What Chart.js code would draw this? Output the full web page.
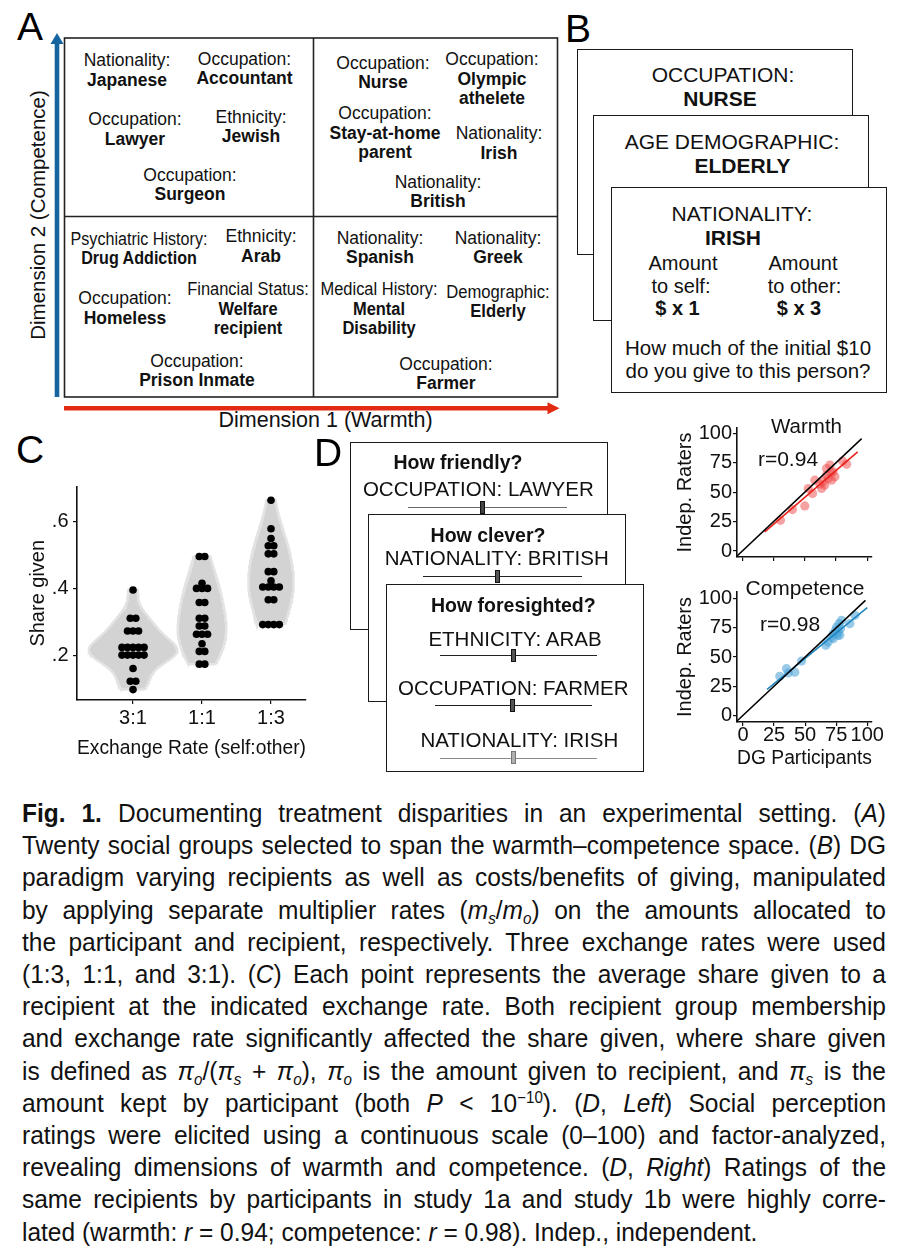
<!DOCTYPE html>
<html>
<head>
<meta charset="utf-8">
<title>Fig. 1</title>
<script src="https://cdn.jsdelivr.net/npm/chart.js@4.4.0/dist/chart.umd.min.js"></script>
<style>
html,body{margin:0;padding:0;background:#fff;}
body{position:relative;width:918px;height:1258px;overflow:hidden;font-family:"Liberation Sans",Arial,Helvetica,sans-serif;color:#111;}
.abs{position:absolute;}
.letter{position:absolute;font-size:39px;line-height:30px;color:#000;}
.card{position:absolute;border:1.6px solid #1a1a1a;background:#fff;box-sizing:border-box;}
.t{position:absolute;white-space:nowrap;text-align:center;}
.albl{position:absolute;white-space:nowrap;text-align:center;font-size:17.5px;line-height:19.6px;color:#111;}
.cap{position:absolute;left:22px;width:900px;height:30px;line-height:30px;white-space:nowrap;font-family:"Liberation Sans Narrow","Liberation Sans",Arial,sans-serif;font-size:26px;color:#111;}
.cap .in{white-space:pre;display:inline-block;transform-origin:0 50%;}
sub,sup{font-size:0.62em;line-height:0;}
sub{vertical-align:-0.28em;} sup{vertical-align:0.55em;}
.slider{position:absolute;height:0;}
.handle{position:absolute;width:5px;height:13px;box-sizing:border-box;}
canvas{position:absolute;}
</style>
</head>
<body>

<!-- ================= PANEL A ================= -->
<div id="panelA">
<div class="letter" style="left:17px;top:12.4px;">A</div>
<svg class="abs" style="left:0;top:0;" width="600" height="440">
  <rect x="64.5" y="38" width="493" height="359" fill="none" stroke="#222" stroke-width="1.6"/>
  <line x1="313.5" y1="38" x2="313.5" y2="397" stroke="#222" stroke-width="1.6"/>
  <line x1="64.5" y1="216.5" x2="557.5" y2="216.5" stroke="#222" stroke-width="1.6"/>
  <line x1="57" y1="397" x2="57" y2="43" stroke="#15639f" stroke-width="4.6"/>
  <polygon points="50.5,44 63.5,44 57,33" fill="#15639f"/>
  <line x1="64" y1="408.3" x2="548" y2="408.3" stroke="#e32b13" stroke-width="4.6"/>
  <polygon points="547.5,402.3 547.5,414.3 559.5,408.3" fill="#e32b13"/>
</svg>
<div class="t" style="left:325.6px;top:419.5px;font-size:21.5px;line-height:19px;transform:translate(-50%,-50%);">Dimension 1 (Warmth)</div>
<div class="t" style="left:37px;top:215px;font-size:20.5px;line-height:19px;transform:translate(-50%,-50%) rotate(-90deg);">Dimension 2 (Competence)</div>
</div>

<!-- ================= PANEL B ================= -->
<div class="letter" style="left:565px;top:14.4px;">B</div>
<div class="card" style="left:577px;top:49px;width:276px;height:206px;"></div>
<div class="t" style="left:723px;top:73.5px;font-size:21px;line-height:19px;transform:translate(-50%,-50%);">OCCUPATION:</div>
<div class="t" style="left:720px;top:97.5px;font-size:21px;line-height:19px;font-weight:bold;transform:translate(-50%,-50%);">NURSE</div>
<div class="card" style="left:593px;top:115px;width:276px;height:206px;"></div>
<div class="t" style="left:732px;top:141px;font-size:21px;line-height:19px;transform:translate(-50%,-50%);">AGE DEMOGRAPHIC:</div>
<div class="t" style="left:742.5px;top:165px;font-size:21px;line-height:19px;font-weight:bold;transform:translate(-50%,-50%);">ELDERLY</div>
<div class="card" style="left:611px;top:187px;width:276px;height:206px;"></div>
<div class="t" style="left:742px;top:213px;font-size:21px;line-height:19px;transform:translate(-50%,-50%);">NATIONALITY:</div>
<div class="t" style="left:733px;top:237px;font-size:21px;line-height:19px;font-weight:bold;transform:translate(-50%,-50%);">IRISH</div>
<div class="t" style="left:683px;top:263px;font-size:20px;line-height:17px;transform:translate(-50%,-50%);">Amount</div>
<div class="t" style="left:681px;top:285.5px;font-size:20px;line-height:17px;transform:translate(-50%,-50%);">to self:</div>
<div class="t" style="left:677.5px;top:308px;font-size:20px;line-height:17px;font-weight:bold;transform:translate(-50%,-50%);">$ x 1</div>
<div class="t" style="left:803px;top:263px;font-size:20px;line-height:17px;transform:translate(-50%,-50%);">Amount</div>
<div class="t" style="left:804.5px;top:285.5px;font-size:20px;line-height:17px;transform:translate(-50%,-50%);">to other:</div>
<div class="t" style="left:799px;top:308px;font-size:20px;line-height:17px;font-weight:bold;transform:translate(-50%,-50%);">$ x 3</div>
<div class="t" style="left:748px;top:346.5px;font-size:20.5px;line-height:19px;transform:translate(-50%,-50%);">How much of the initial $10</div>
<div class="t" style="left:748px;top:370px;font-size:20.5px;line-height:19px;transform:translate(-50%,-50%);">do you give to this person?</div>

<!-- ================= PANEL C ================= -->
<div class="letter" style="left:16px;top:435.4px;">C</div>
<canvas id="cC" width="320" height="290" style="left:0px;top:470px;width:320px;height:290px;"></canvas>

<!-- ================= PANEL D (left) ================= -->
<div class="letter" style="left:314px;top:438.4px;">D</div>
<div id="panelDL"></div>

<!-- ================= PANEL D (right) ================= -->
<canvas id="cW" width="258" height="170" style="left:660px;top:405px;width:258px;height:170px;"></canvas>
<canvas id="cP" width="258" height="200" style="left:660px;top:570px;width:258px;height:200px;"></canvas>
<div class="t" style="left:806.5px;top:424.5px;font-size:20.5px;line-height:19px;transform:translate(-50%,-50%);">Warmth</div>
<div class="t" id="rW" style="left:788px;top:458px;font-size:21px;line-height:19px;transform:translate(-50%,-50%);"></div>
<div class="t" style="left:805px;top:586.7px;font-size:21px;line-height:19px;transform:translate(-50%,-50%);">Competence</div>
<div class="t" id="rP" style="left:790px;top:623.3px;font-size:21px;line-height:19px;transform:translate(-50%,-50%);"></div>

<!-- ================= CAPTION ================= -->
<div id="caption">
<div class="cap"><span class="in"><b>Fig. 1.</b><span style="display:inline-block;width:17px"></span>Documenting treatment disparities in an experimental setting. (<i>A</i>)</span></div>
<div class="cap"><span class="in">Twenty social groups selected to span the warmth–competence space. (<i>B</i>) DG</span></div>
<div class="cap"><span class="in">paradigm varying recipients as well as costs/benefits of giving, manipulated</span></div>
<div class="cap"><span class="in">by applying separate multiplier rates (<i>m<sub>s</sub></i>/<i>m<sub>o</sub></i>) on the amounts allocated to</span></div>
<div class="cap"><span class="in">the participant and recipient, respectively. Three exchange rates were used</span></div>
<div class="cap"><span class="in">(1:3, 1:1, and 3:1). (<i>C</i>) Each point represents the average share given to a</span></div>
<div class="cap"><span class="in">recipient at the indicated exchange rate. Both recipient group membership</span></div>
<div class="cap"><span class="in">and exchange rate significantly affected the share given, where share given</span></div>
<div class="cap"><span class="in">is defined as <i>π<sub>o</sub></i>/(<i>π<sub>s</sub></i> + <i>π<sub>o</sub></i>), <i>π<sub>o</sub></i> is the amount given to recipient, and <i>π<sub>s</sub></i> is the</span></div>
<div class="cap"><span class="in">amount kept by participant (both <i>P</i> &lt; 10<sup>−10</sup>). (<i>D</i>, <i>Left</i>) Social perception</span></div>
<div class="cap"><span class="in">ratings were elicited using a continuous scale (0–100) and factor-analyzed,</span></div>
<div class="cap"><span class="in">revealing dimensions of warmth and competence. (<i>D</i>, <i>Right</i>) Ratings of the</span></div>
<div class="cap"><span class="in">same recipients by participants in study 1a and study 1b were highly corre-</span></div>
<div class="cap"><span class="in">lated (warmth: <i>r</i> = 0.94; competence: <i>r</i> = 0.98). Indep., independent.</span></div>
</div>

<script>
// ======================= DATA =======================
// Panel C: average share given per recipient group, by exchange rate (self:other)
const exchangeRates = ['3:1', '1:1', '1:3'];
const share31 = [0.395, 0.311, 0.311, 0.273, 0.273, 0.273, 0.224, 0.224, 0.224, 0.224, 0.224,
                 0.201, 0.201, 0.201, 0.201, 0.201, 0.161, 0.123, 0.123, 0.098];
const share11 = [0.495, 0.495, 0.415, 0.400, 0.400, 0.400, 0.358, 0.358, 0.311, 0.311,
                 0.288, 0.288, 0.263, 0.263, 0.263, 0.235, 0.212, 0.212, 0.174, 0.174];
const share13 = [0.663, 0.578, 0.549, 0.527, 0.527, 0.503, 0.503, 0.450, 0.450, 0.423,
                 0.404, 0.404, 0.404, 0.404, 0.366, 0.366, 0.292, 0.292, 0.292, 0.292];
const shareTicks = [0.2, 0.4, 0.6];
const shareTickLabels = ['.2', '.4', '.6'];

// Panel D right: DG participants vs independent raters
const ratingTicks = [0, 25, 50, 75, 100];
const warmthDG    = [30.5, 40.1, 50.0, 52.7, 56.2, 58.0, 63.4, 64.7, 67.4, 70.1,
                     68.7, 71.4, 72.7, 74.1, 80.3, 83.5, 66.0, 62.0, 71.0, 67.4];
const warmthIndep = [26.1, 35.2, 38.3, 53.1, 48.9, 60.2, 53.1, 58.8, 64.5, 73.0,
                     61.6, 60.2, 67.3, 63.0, 76.4, 73.6, 56.0, 57.0, 67.0, 70.0];
const warmthFitDG = [17.9, 92.3];
const warmthFitIndep = [16.2, 84.3];
const warmthRefDG = [-6, 95.5];
const warmthRefIndep = [-6, 95.5];
const warmthR = 'r=0.94';

const competenceDG    = [29.6, 35.0, 36.4, 41.7, 47.1, 66.7, 68.5, 71.2, 72.6, 74.5,
                         76.1, 77.4, 78.5, 75.3, 79.3, 86.0, 90.1, 77.9, 72.6, 76.6];
const competenceIndep = [33.4, 40.0, 36.3, 37.0, 46.5, 60.0, 62.8, 67.1, 70.0, 72.8,
                         68.6, 78.6, 74.3, 75.7, 81.4, 78.6, 85.7, 68.6, 65.7, 71.4];
const competenceFitDG = [19.4, 100];
const competenceFitIndep = [22.3, 92.3];
const competenceRefDG = [-6, 98.5];
const competenceRefIndep = [-6, 98.5];
const competenceR = 'r=0.98';

// ======================= TEXT LAYOUT (panels A, D-left) =======================
const aLabels = [
  [127, 61, ['Nationality:', 'Japanese']],
  [244.5, 59.5, ['Occupation:', 'Accountant']],
  [135, 120, ['Occupation:', 'Lawyer']],
  [251, 117.5, ['Ethnicity:', 'Jewish']],
  [190, 175.5, ['Occupation:', 'Surgeon']],
  [383, 63.5, ['Occupation:', 'Nurse']],
  [492, 60, ['Occupation:', 'Olympic', 'athelete']],
  [385, 114, ['Occupation:', 'Stay-at-home', 'parent']],
  [499, 134, ['Nationality:', 'Irish']],
  [438, 182.5, ['Nationality:', 'British']],
  [139, 239.5, ['Psychiatric History:', 'Drug Addiction'], 0.92],
  [261, 237, ['Ethnicity:', 'Arab']],
  [125, 299, ['Occupation:', 'Homeless']],
  [248, 290, ['Financial Status:', 'Welfare', 'recipient'], 0.94],
  [197, 361.5, ['Occupation:', 'Prison Inmate']],
  [380, 238.5, ['Nationality:', 'Spanish']],
  [498, 238.5, ['Nationality:', 'Greek']],
  [379, 290, ['Medical History:', 'Mental', 'Disability'], 0.94],
  [498, 292.5, ['Demographic:', 'Elderly'], 0.95],
  [446, 364.5, ['Occupation:', 'Farmer']]
];
const panelA = document.getElementById('panelA');
aLabels.forEach(([cx, y0, lines, sx]) => {
  const d = document.createElement('div');
  d.className = 'albl';
  d.innerHTML = lines.map((t, i) => i === 0 ? t : '<b>' + t + '</b>').join('<br>');
  d.style.left = cx + 'px';
  d.style.top = (y0 - 9.8) + 'px';
  d.style.transform = 'translateX(-50%) scaleX(' + (sx || 1) + ')';
  panelA.appendChild(d);
});

// D-left: stacked rating cards
const dlCards = [
  { box: [350, 442], items: [
      ['How friendly?', 458, 462, true],
      ['OCCUPATION: LAWYER', 478.3, 488.3, false]],
    sliders: [[408, 567, 508, 482.7, '#6a6a6a', '#444', '#111']] },
  { box: [368, 514], items: [
      ['How clever?', 488, 535, true],
      ['NATIONALITY: BRITISH', 496.7, 556.7, false]],
    sliders: [[423, 582, 576.7, 498.3, '#222', '#555', '#111']] },
  { box: [386, 584], items: [
      ['How foresighted?', 513.3, 605, true],
      ['ETHNICITY: ARAB', 515, 638.3, false],
      ['OCCUPATION: FARMER', 513.3, 686.7, false],
      ['NATIONALITY: IRISH', 519.3, 739.3, false]],
    sliders: [[440, 597, 656, 514, '#222', '#555', '#111'],
              [435, 592, 706, 513.3, '#222', '#555', '#111'],
              [440, 597, 758.3, 514, '#8a8a8a', '#b0b0b0', '#777']] }
];
const panelDL = document.getElementById('panelDL');
dlCards.forEach(c => {
  const card = document.createElement('div');
  card.className = 'card';
  card.style.left = c.box[0] + 'px'; card.style.top = c.box[1] + 'px';
  card.style.width = '258px'; card.style.height = '188px';
  panelDL.appendChild(card);
  c.items.forEach(([txt, cx, cy, bold]) => {
    const d = document.createElement('div');
    d.className = 't';
    d.textContent = txt;
    d.style.left = cx + 'px'; d.style.top = cy + 'px';
    d.style.fontSize = bold ? '19.5px' : '20.5px';
    d.style.lineHeight = '19px';
    if (bold) d.style.fontWeight = 'bold';
    d.style.transform = 'translate(-50%,-50%)';
    panelDL.appendChild(d);
  });
  c.sliders.forEach(([x1, x2, y, hx, lc, hf, hb]) => {
    const l = document.createElement('div');
    l.className = 'slider';
    l.style.left = x1 + 'px'; l.style.top = (y - 0.8) + 'px';
    l.style.width = (x2 - x1) + 'px';
    l.style.borderTop = '1.6px solid ' + lc;
    panelDL.appendChild(l);
    const h = document.createElement('div');
    h.className = 'handle';
    h.style.left = (hx - 3) + 'px'; h.style.top = (y - 7) + 'px';
    h.style.background = hf; h.style.border = '1px solid ' + hb;
    panelDL.appendChild(h);
  });
});

// ======================= CHARTS =======================
const FONT = '"Liberation Sans", Arial, Helvetica, sans-serif';
Chart.defaults.font.family = FONT;
Chart.defaults.color = '#111';

function quantile(sorted, p) {
  const h = (sorted.length - 1) * p, lo = Math.floor(h), hi = Math.ceil(h);
  return sorted[lo] + (h - lo) * (sorted[hi] - sorted[lo]);
}
function bwNrd0(vals) {
  const n = vals.length;
  const mean = vals.reduce((a, b) => a + b, 0) / n;
  const sd = Math.sqrt(vals.reduce((a, b) => a + (b - mean) * (b - mean), 0) / (n - 1));
  const s = vals.slice().sort((a, b) => a - b);
  const iqr = quantile(s, 0.75) - quantile(s, 0.25);
  let lo = Math.min(sd, iqr / 1.34);
  if (!(lo > 0)) lo = sd || Math.abs(s[0]) || 1;
  return 0.9 * lo * Math.pow(n, -0.2);
}
function density(vals, y, h) {
  let t = 0;
  for (const v of vals) { const z = (y - v) / h; t += Math.exp(-0.5 * z * z); }
  return t / (vals.length * h * Math.sqrt(2 * Math.PI));
}

// ---- Panel C ----
const BW_ADJUST = 1.3;
const shareGroups = [share31, share11, share13];
const profiles = shareGroups.map(vals => {
  const h = bwNrd0(vals) * BW_ADJUST;
  const lo = Math.min(...vals), hi = Math.max(...vals);
  const out = [];
  for (let i = 0; i <= 90; i++) {
    const y = lo + (hi - lo) * i / 90;
    out.push({ y, d: density(vals, y, h) });
  }
  return out;
});
const dMax = Math.max(...profiles.flat().map(p => p.d));
const HALF_WIDTH = 0.64;
const violinSets = profiles.map((prof, g) => {
  const c = g + 1;
  const right = prof.map(p => ({ x: c + HALF_WIDTH * p.d / dMax, y: p.y }));
  const left = prof.slice().reverse().map(p => ({ x: c - HALF_WIDTH * p.d / dMax, y: p.y }));
  const pts = right.concat(left); pts.push(right[0]);
  return {
    data: pts, fill: 'shape', backgroundColor: '#d3d3d3', borderColor: '#e3e3e3',
    borderWidth: 2.5, pointRadius: 0, tension: 0, order: 2
  };
});
const DOT_STEP = 0.08;
const dotPts = [];
shareGroups.forEach((vals, g) => {
  const counts = new Map();
  vals.forEach(v => counts.set(v, (counts.get(v) || 0) + 1));
  counts.forEach((n, v) => {
    for (let i = 0; i < n; i++) dotPts.push({ x: g + 1 + (i - (n - 1) / 2) * DOT_STEP, y: v });
  });
});

new Chart(document.getElementById('cC'), {
  type: 'line',
  data: {
    datasets: [
      ...violinSets,
      { data: dotPts, showLine: false, pointRadius: 3.8, pointBackgroundColor: '#000',
        pointBorderWidth: 0, order: 1 }
    ]
  },
  options: {
    responsive: false, animation: false, devicePixelRatio: 1, events: [],
    layout: { padding: { left: 0, top: 11, right: 14, bottom: 0 } },
    plugins: { legend: { display: false }, tooltip: { enabled: false } },
    scales: {
      x: {
        type: 'linear', min: 0.188, max: 3.507,
        afterBuildTicks: s => { s.ticks = exchangeRates.map((_, i) => ({ value: i + 1 })); },
        afterFit: s => { s.height = 60; },
        ticks: { callback: v => exchangeRates[Math.round(v) - 1], font: { size: 20 }, color: '#111',
                 padding: 2, maxRotation: 0, autoSkip: false },
        grid: { display: true, drawOnChartArea: false, drawTicks: true, tickLength: 4, color: '#111', lineWidth: 1.2 },
        border: { display: true, color: '#111', width: 1.6 },
        title: { display: true, text: 'Exchange Rate (self:other)', font: { size: 20 }, color: '#111',
                 padding: { top: 6, bottom: 0 } }
      },
      y: {
        type: 'linear', min: 0.067, max: 0.704,
        afterBuildTicks: s => { s.ticks = shareTicks.map(v => ({ value: v })); },
        afterFit: s => { s.width = 77; },
        ticks: { callback: (v, i) => shareTickLabels[i], font: { size: 20 }, color: '#111', padding: 4.5 },
        grid: { display: true, drawOnChartArea: false, drawTicks: true, tickLength: 4, color: '#111', lineWidth: 1.2 },
        border: { display: true, color: '#111', width: 1.6 },
        title: { display: true, text: 'Share given', font: { size: 20 }, color: '#111',
                 padding: { top: 26, bottom: 0 } }
      }
    }
  }
});

// ---- Panel D right ----
function ratingChart(id, dg, indep, fitX, fitY, refX, refY, pointColor, lineColor, opts) {
  const pts = dg.map((v, i) => ({ x: v, y: indep[i] }));
  return new Chart(document.getElementById(id), {
    type: 'line',
    data: {
      datasets: [
        { data: refX.map((v, i) => ({ x: v, y: refY[i] })), borderColor: '#000', borderWidth: 1.5,
          pointRadius: 0, fill: false, order: 0 },
        { data: fitX.map((v, i) => ({ x: v, y: fitY[i] })), borderColor: lineColor, borderWidth: 1.6,
          pointRadius: 0, fill: false, order: 0 },
        { data: pts, showLine: false, pointRadius: 4.6, pointBackgroundColor: pointColor,
          pointBorderWidth: 0, order: 1 }
      ]
    },
    options: {
      responsive: false, animation: false, devicePixelRatio: 1, events: [],
      layout: { padding: { left: 0, top: opts.padTop, right: 46, bottom: 0 } },
      plugins: { legend: { display: false }, tooltip: { enabled: false } },
      scales: {
        x: {
          type: 'linear', min: opts.xMin, max: opts.xMax,
          afterBuildTicks: s => { s.ticks = ratingTicks.map(v => ({ value: v })); },
          afterFit: s => { s.height = opts.xHeight; },
          ticks: { display: opts.xLabels, font: { size: 20 }, color: '#111', padding: -3,
                   maxRotation: 0, autoSkip: false },
          grid: { display: true, drawOnChartArea: false, drawTicks: true, tickLength: 4, color: '#111', lineWidth: 1.2 },
          border: { display: true, color: '#111', width: 1.6 },
          title: { display: opts.xLabels, text: 'DG Participants', font: { size: 20 }, color: '#111',
                   padding: { top: 0, bottom: 0 } }
        },
        y: {
          type: 'linear', min: opts.yMin, max: opts.yMax,
          afterBuildTicks: s => { s.ticks = ratingTicks.map(v => ({ value: v })); },
          afterFit: s => { s.width = 77; },
          ticks: { font: { size: 20 }, color: '#111', padding: 1 },
          grid: { display: true, drawOnChartArea: false, drawTicks: true, tickLength: 4, color: '#111', lineWidth: 1.2 },
          border: { display: true, color: '#111', width: 1.6 },
          title: { display: true, text: 'Indep. Raters', font: { size: 20 }, color: '#111',
                   padding: { top: 13, bottom: 0 } }
        }
      }
    }
  });
}
ratingChart('cW', warmthDG, warmthIndep, warmthFitDG, warmthFitIndep, warmthRefDG, warmthRefIndep,
  'rgba(240, 70, 70, 0.5)', '#e8221b',
  { padTop: 23, xHeight: 18, xLabels: false, xMin: -4.3, xMax: 103.8, yMin: -5.1, yMax: 104.5 });
ratingChart('cP', competenceDG, competenceIndep, competenceFitDG, competenceFitIndep, competenceRefDG, competenceRefIndep,
  'rgba(70, 160, 215, 0.55)', '#1f86c0',
  { padTop: 22, xHeight: 48, xLabels: true, xMin: -4.8, xMax: 103.8, yMin: -5.7, yMax: 105.7 });
document.getElementById('rW').textContent = warmthR;
document.getElementById('rP').textContent = competenceR;

// ======================= CAPTION LAYOUT =======================
function layoutCaption() {
  const lines = Array.from(document.querySelectorAll('.cap'));
  lines.forEach((l, i) => { l.style.top = (813 + 32.2 * i - 15) + 'px'; });
  const inners = lines.map(l => l.querySelector('.in'));
  const target = 864;
  inners.forEach(s => { s.style.wordSpacing = '0px'; s.style.transform = 'none'; });
  lines.forEach(l => { l.style.fontSize = '26px'; });
  const measure = () => inners.map(s => s.getBoundingClientRect().width);
  let ws = measure();
  let maxW = Math.max(...ws.slice(0, -1));
  let sx = 1;
  if (maxW <= target * 0.985) {
    const fs = Math.min(28, 26 * target * 0.985 / maxW);
    lines.forEach(l => { l.style.fontSize = fs + 'px'; });
    ws = measure(); maxW = Math.max(...ws.slice(0, -1));
  }
  if (maxW > target * 0.985) sx = target * 0.985 / maxW;
  inners.forEach((s, i) => {
    s.style.transform = 'scaleX(' + sx + ')';
    if (i < inners.length - 1) {
      const spaces = (s.textContent.match(/ /g) || []).length;
      if (spaces) s.style.wordSpacing = ((target / sx - ws[i]) / spaces) + 'px';
    }
  });
}
layoutCaption();
if (document.fonts && document.fonts.ready) document.fonts.ready.then(layoutCaption);
</script>
</body>
</html>
